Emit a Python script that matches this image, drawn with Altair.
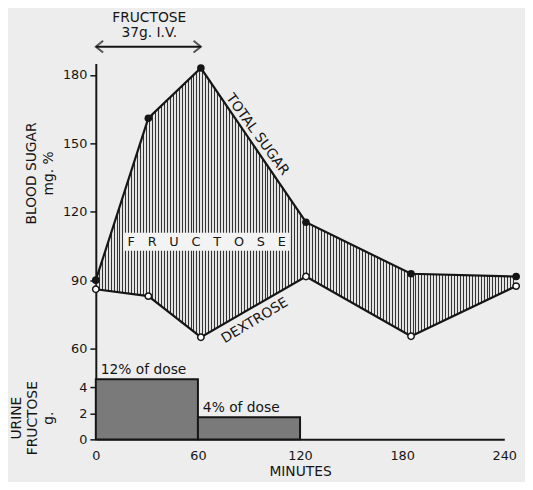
import altair as alt
import pandas as pd

# ---- data ----
minutes = [0, 30, 60, 120, 180, 240]
total_sugar = [90, 161, 183, 115.4, 92.8, 91.6]
dextrose = [86, 83, 65, 91.6, 65.4, 87.4]

urine_start = [0, 60]
urine_end = [60, 120]
urine_grams = [4.63, 1.7]
urine_labels = ["12% of dose", "4% of dose"]

FONT = "DejaVu Sans"
INK = "#151515"
BG = "#ededed"

blood = pd.DataFrame({"min": minutes, "total": total_sugar, "dex": dextrose})
urine = pd.DataFrame({"start": urine_start, "end": urine_end, "g": urine_grams,
                      "label": urine_labels})
one = pd.DataFrame({"k": [0]})

# vertical hatch as a striped gradient (style only)
n = 142
stops = []
for i in range(n):
    a = round(i / n, 7)
    b = round((i + 1 / 3) / n, 7)
    c = round((i + 1) / n, 7)
    stops += [{"offset": a, "color": "#333333"}, {"offset": b, "color": "#333333"},
              {"offset": b, "color": "#e4e4e4"}, {"offset": c, "color": "#e4e4e4"}]
hatch = {"gradient": "linear", "x1": 0, "x2": 1, "y1": 0, "y2": 0, "stops": stops}

xs_up = alt.Scale(domain=[0, 240], nice=False, zero=False)
ys_up = alt.Scale(domain=[60, 185], nice=False, zero=False)

base = alt.Chart(blood)

area = base.mark_area(color=hatch, opacity=1).encode(
    x=alt.X("min:Q", scale=xs_up, axis=None),
    y=alt.Y("total:Q", scale=ys_up,
            axis=alt.Axis(values=[60, 90, 120, 150, 180], title=["BLOOD SUGAR", "mg. %"],
                          grid=False, domainColor=INK, domainWidth=2, tickColor=INK,
                          tickWidth=1.5, tickSize=6, labelPadding=3, labelFontSize=13,
                          labelColor=INK, labelFont=FONT, titleFont=FONT, titleFontSize=14,
                          titleFontWeight="normal", titleColor=INK, titlePadding=7,
                          titleY=111, titleLineHeight=17)),
    y2="dex:Q",
)

box_df = pd.DataFrame({"x": [15.9], "x2": [110.6], "y": [110.8], "y2": [102.9],
                       "t": ["F\u2003R\u2003U\u2003C\u2003T\u2003O\u2003S\u2003E"],
                       "tx": [63.3], "ty": [106.8]})
box = alt.Chart(box_df).mark_rect(color="#f3f3f3").encode(
    x=alt.X("x:Q", scale=xs_up), x2="x2:Q", y=alt.Y("y:Q", scale=ys_up), y2="y2:Q")
box_text = alt.Chart(box_df).mark_text(font=FONT, fontSize=13, color=INK).encode(
    x=alt.X("tx:Q", scale=xs_up), y=alt.Y("ty:Q", scale=ys_up), text="t:N")

line_total = base.mark_line(color=INK, strokeWidth=2.2).encode(
    x=alt.X("min:Q", scale=xs_up), y=alt.Y("total:Q", scale=ys_up))
line_dex = base.mark_line(color=INK, strokeWidth=2.2).encode(
    x=alt.X("min:Q", scale=xs_up), y=alt.Y("dex:Q", scale=ys_up))
pts_total = base.mark_circle(color=INK, size=60, opacity=1).encode(
    x=alt.X("min:Q", scale=xs_up), y=alt.Y("total:Q", scale=ys_up))
pts_dex = base.mark_point(shape="circle", filled=True, fill="#ffffff", stroke=INK,
                          strokeWidth=1.5, size=42, opacity=1).encode(
    x=alt.X("min:Q", scale=xs_up), y=alt.Y("dex:Q", scale=ys_up))

lab_df = pd.DataFrame({"x": [92.2], "y": [153.8], "t": ["TOTAL SUGAR"]})
lab_total = alt.Chart(lab_df).mark_text(font=FONT, fontSize=14, color=INK, angle=54).encode(
    x=alt.X("x:Q", scale=xs_up), y=alt.Y("y:Q", scale=ys_up), text="t:N")
lab_df2 = pd.DataFrame({"x": [90.8], "y": [72.2], "t": ["DEXTROSE"]})
lab_dex = alt.Chart(lab_df2).mark_text(font=FONT, fontSize=14, color=INK, angle=329).encode(
    x=alt.X("x:Q", scale=xs_up), y=alt.Y("y:Q", scale=ys_up), text="t:N")

# dose arrow and header
arrow = alt.Chart(one).mark_rule(color=INK, strokeWidth=2).encode(
    x=alt.datum(0, scale=xs_up), x2=alt.datum(60), y=alt.value(-17))
head_l = alt.Chart(one).mark_point(shape="M1,-0.8L0,0L1,0.8", size=220, color=INK,
                                   strokeWidth=2, filled=False).encode(
    x=alt.datum(0, scale=xs_up), y=alt.value(-17))
head_r = alt.Chart(one).mark_point(shape="M-1,-0.8L0,0L-1,0.8", size=220, color=INK,
                                   strokeWidth=2, filled=False).encode(
    x=alt.datum(60, scale=xs_up), y=alt.value(-17))
hdr1 = alt.Chart(one).mark_text(font=FONT, fontSize=14, color=INK, text="FRUCTOSE").encode(
    x=alt.datum(30.5, scale=xs_up), y=alt.value(-46))
hdr2 = alt.Chart(one).mark_text(font=FONT, fontSize=14, color=INK, text="37g. I.V.").encode(
    x=alt.datum(30.5, scale=xs_up), y=alt.value(-31))

upper = alt.layer(area, box, box_text, line_total, line_dex, pts_total, pts_dex,
                  lab_total, lab_dex, arrow, head_l, head_r, hdr1, hdr2).properties(
    width=426, height=289)

# ---- lower panel ----
xs_lo = alt.Scale(domain=[0, 240], nice=False, zero=False)
ys_lo = alt.Scale(domain=[0, 7], nice=False)

bars = alt.Chart(urine).mark_rect(color="#7a7a7a", stroke=INK, strokeWidth=2, opacity=1).encode(
    x=alt.X("start:Q", scale=xs_lo,
            axis=alt.Axis(values=[0, 60, 120, 180, 240], title="MINUTES", grid=False,
                          domainColor=INK, domainWidth=2, ticks=False, labelPadding=10,
                          labelFlush=False, labelFontSize=13, labelColor=INK,
                          labelFont=FONT, titleFont=FONT, titleFontSize=14,
                          titleFontWeight="normal", titleColor=INK, titlePadding=3)),
    x2="end:Q",
    y=alt.Y("g:Q", scale=ys_lo,
            axis=alt.Axis(values=[0, 2, 4], title=["URINE", "FRUCTOSE", "g."], grid=False,
                          domainColor=INK, domainWidth=2, tickColor=INK, tickWidth=1.5,
                          tickSize=6, labelPadding=3, labelFontSize=13, labelColor=INK,
                          labelFont=FONT, titleFont=FONT, titleFontSize=14,
                          titleFontWeight="normal", titleColor=INK, titlePadding=24,
                          titleY=70, titleLineHeight=16)),
    y2=alt.datum(0),
)
bar_text = alt.Chart(urine).mark_text(font=FONT, fontSize=14, color=INK, align="left",
                                      dx=5, dy=-9).encode(
    x=alt.X("start:Q", scale=xs_lo), y=alt.Y("g:Q", scale=ys_lo), text="label:N")

lower = alt.layer(bars, bar_text).properties(width=414, height=92)

chart = alt.vconcat(upper, lower, spacing=0, bounds="flush").resolve_scale(
    x="independent", y="independent").configure_view(stroke=None).properties(
    background=BG, padding={"left": 1, "top": 0, "right": 2, "bottom": 0})

chart.save("out.html", embed_options={"renderer": "svg", "actions": False})
